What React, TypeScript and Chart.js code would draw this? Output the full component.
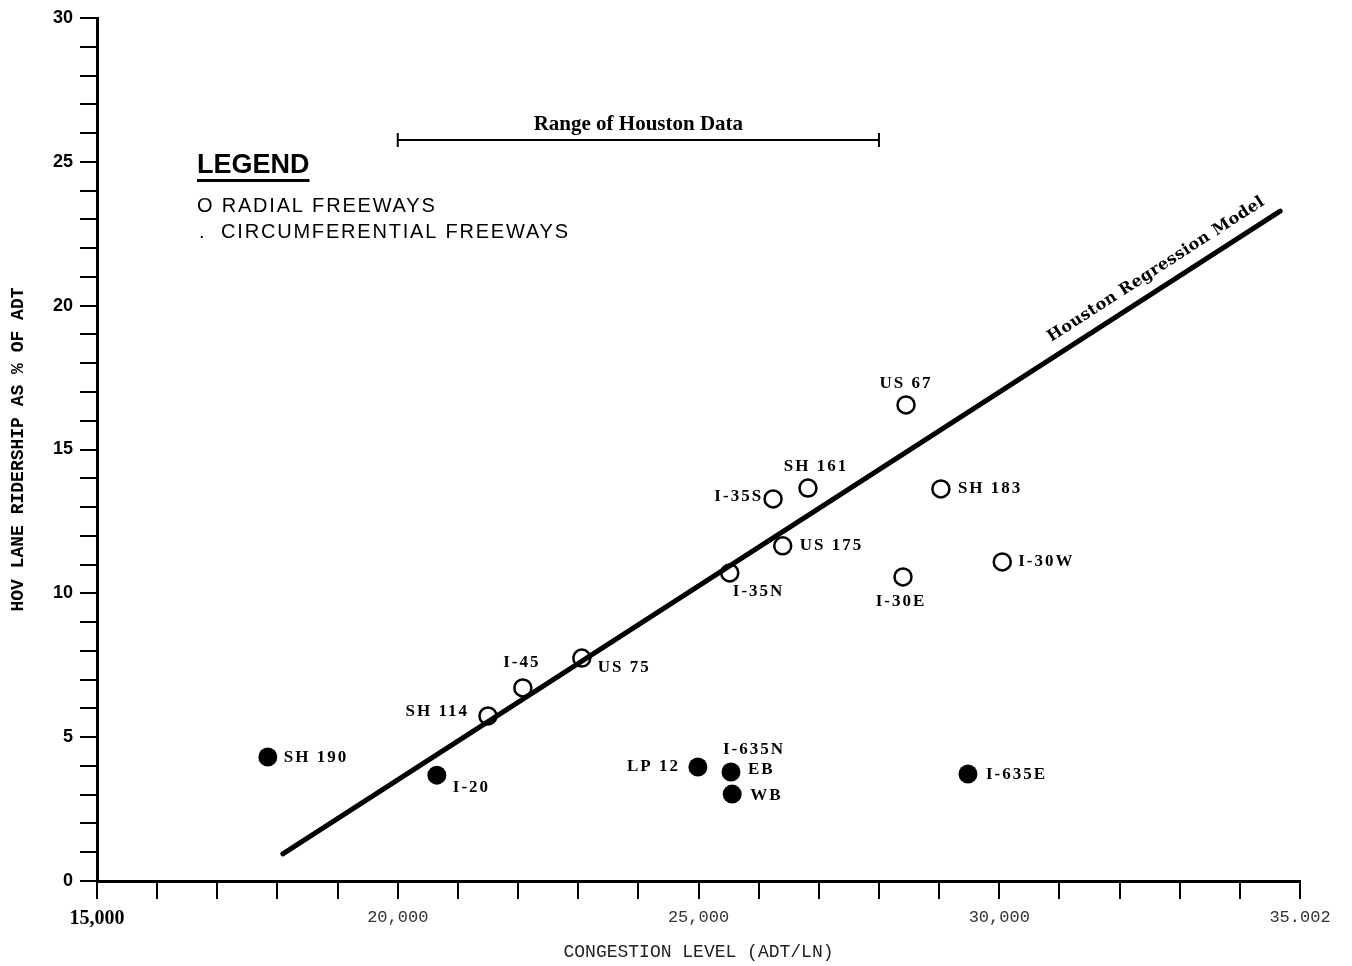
import { useEffect, useRef } from 'react';
import { Chart, registerables } from 'chart.js';

Chart.register(...registerables);

// Radial freeways (open circles)
const radialNames = ['SH 114', 'I-45', 'US 75', 'I-35N', 'US 175', 'I-35S', 'SH 161', 'US 67', 'SH 183', 'I-30E', 'I-30W'];
const radialX = [21500, 22080, 23060, 25520, 26400, 26240, 26820, 28450, 29030, 28400, 30050];
const radialY = [5.74, 6.71, 7.75, 10.71, 11.65, 13.28, 13.66, 16.55, 13.63, 10.57, 11.09];

// Circumferential freeways (filled circles)
const circNames = ['SH 190', 'I-20', 'LP 12', 'EB', 'WB', 'I-635E'];
const circX = [17840, 20650, 24990, 25540, 25560, 29480];
const circY = [4.31, 3.68, 3.96, 3.79, 3.02, 3.72];

// Houston regression model line
const regressionX = [18090, 34670];
const regressionY = [0.94, 23.29];
const regressionLabelX = 32770;

// Range of Houston data bar
const houstonRangeX = [20000, 28000];
const houstonRangeY = [25.76, 25.76];

// Tick labels
const xTickValues = [15000, 20000, 25000, 30000, 35000];
const xTickLabels = ['15,000', '20,000', '25,000', '30,000', '35.002'];
const yTickValues = [0, 5, 10, 15, 20, 25, 30];
const yTickLabels = ['0', '5', '10', '15', '20', '25', '30'];

// label placement (pixel offsets from the point, text alignment)
const radialLabelPlace: [number, number, CanvasTextAlign][] = [
  [-19, -4, 'right'], [-1, -25, 'center'], [16, 10, 'left'], [3, 19, 'left'],
  [17, 0, 'left'], [-10, -2, 'right'], [8, -21, 'center'], [0, -21, 'center'],
  [17, 0, 'left'], [-2, 25, 'center'], [16, 0, 'left'],
];
const circLabelPlace: [number, number, CanvasTextAlign][] = [
  [16, 1, 'left'], [16, 12, 'left'], [-18, 0, 'right'], [17, -2, 'left'], [18, 1, 'left'], [18, 1, 'left'],
];
const groupLabel = { text: 'I-635N', anchor: 3, dx: -8, dy: -22 };

const annotPlugin = {
  id: 'annot',
  afterDatasetsDraw(chart: any) {
    const { ctx, scales, chartArea } = chart;
    const x = scales.x;
    const y = scales.y;
    ctx.save();
    ctx.fillStyle = '#000';
    ctx.textBaseline = 'middle';
    ctx.font = 'bold 17px "Liberation Serif", serif';
    (ctx as any).letterSpacing = '2px';
    radialNames.forEach((n, i) => {
      const [dx, dy, al] = radialLabelPlace[i];
      ctx.textAlign = al;
      ctx.fillText(n, x.getPixelForValue(radialX[i]) + dx, y.getPixelForValue(radialY[i]) + dy);
    });
    circNames.forEach((n, i) => {
      const [dx, dy, al] = circLabelPlace[i];
      ctx.textAlign = al;
      ctx.fillText(n, x.getPixelForValue(circX[i]) + dx, y.getPixelForValue(circY[i]) + dy);
    });
    ctx.textAlign = 'left';
    ctx.fillText(
      groupLabel.text,
      x.getPixelForValue(circX[groupLabel.anchor]) + groupLabel.dx,
      y.getPixelForValue(circY[groupLabel.anchor]) + groupLabel.dy
    );

    // Range of Houston Data
    (ctx as any).letterSpacing = '0px';
    ctx.font = 'bold 21px "Liberation Serif", serif';
    ctx.textAlign = 'center';
    ctx.textBaseline = 'alphabetic';
    const rx = (x.getPixelForValue(houstonRangeX[0]) + x.getPixelForValue(houstonRangeX[1])) / 2;
    ctx.fillText('Range of Houston Data', rx, y.getPixelForValue(houstonRangeY[0]) - 10);

    // Legend block
    const lx = chartArea.left + 100;
    ctx.textAlign = 'left';
    ctx.font = 'bold 27px "Liberation Sans", Arial, sans-serif';
    ctx.fillText('LEGEND', lx, 173);
    const lw = ctx.measureText('LEGEND').width;
    ctx.fillRect(lx, 179, lw, 3);
    ctx.font = '20px "Liberation Sans", Arial, sans-serif';
    (ctx as any).letterSpacing = '1.8px';
    ctx.fillText('O RADIAL FREEWAYS', lx, 212);
    ctx.fillText('.  CIRCUMFERENTIAL FREEWAYS', lx + 2, 238);

    // Regression label
    (ctx as any).letterSpacing = '0.5px';
    const x0 = x.getPixelForValue(regressionX[0]);
    const y0 = y.getPixelForValue(regressionY[0]);
    const x1 = x.getPixelForValue(regressionX[1]);
    const y1 = y.getPixelForValue(regressionY[1]);
    const ang = Math.atan2(y1 - y0, x1 - x0);
    const t = (regressionLabelX - regressionX[0]) / (regressionX[1] - regressionX[0]);
    const px = x0 + (x1 - x0) * t;
    const py = y0 + (y1 - y0) * t;
    const off = 18;
    const nx = Math.sin(ang) * off;
    const ny = -Math.cos(ang) * off;
    ctx.translate(px + nx, py + ny);
    ctx.rotate(ang);
    ctx.font = 'bold 16px "DejaVu Serif", serif';
    ctx.textAlign = 'center';
    ctx.textBaseline = 'middle';
    ctx.fillText('Houston Regression Model', 0, 0);
    ctx.restore();
  },
};

export default function App() {
  const ref = useRef<HTMLCanvasElement>(null);
  useEffect(() => {
    const canvas = ref.current!;
    const chart = new Chart(canvas, {
      type: 'scatter',
      data: {
        datasets: [
          {
            label: 'Radial Freeways',
            data: radialX.map((v, i) => ({ x: v, y: radialY[i] })),
            pointRadius: 8.5,
            pointBorderWidth: 2.5,
            pointBorderColor: '#000',
            pointBackgroundColor: 'rgba(255,255,255,0)',
            showLine: false,
          },
          {
            label: 'Circumferential Freeways',
            data: circX.map((v, i) => ({ x: v, y: circY[i] })),
            pointRadius: 9.5,
            pointBorderWidth: 0,
            pointBackgroundColor: '#000',
            pointBorderColor: '#000',
            showLine: false,
          },
          {
            label: 'Houston Regression Model',
            data: regressionX.map((v, i) => ({ x: v, y: regressionY[i] })),
            showLine: true,
            borderColor: '#000',
            borderWidth: 5,
            borderCapStyle: 'round',
            pointRadius: 0,
          },
          {
            label: 'Range of Houston Data',
            data: houstonRangeX.map((v, i) => ({ x: v, y: houstonRangeY[i] })),
            showLine: true,
            borderColor: '#000',
            borderWidth: 2,
            pointStyle: 'line',
            rotation: 90,
            pointRadius: 7,
            pointBorderWidth: 2,
            pointBorderColor: '#000',
          },
        ],
      },
      options: {
        animation: false,
        responsive: false,
        layout: { padding: { top: 18, right: 52, bottom: 0, left: 0 } },
        plugins: { legend: { display: false }, tooltip: { enabled: false } },
        scales: {
          x: {
            type: 'linear',
            min: 15000,
            max: 35000,
            afterFit: (s: any) => { s.height = 85; },
            ticks: {
              stepSize: 1000,
              autoSkip: false,
              maxRotation: 0,
              minRotation: 0,
              padding: 8,
              color: (c: any) => (c.tick && c.tick.value === 15000 ? '#000' : '#333'),
              font: (c: any) =>
                c.tick && c.tick.value === 15000
                  ? { family: '"Liberation Serif", serif', size: 20, weight: 'bold' }
                  : { family: '"Liberation Mono", monospace', size: 17, weight: 'normal' },
              callback: (v: any) => {
                const i = xTickValues.indexOf(Number(v));
                return i >= 0 ? xTickLabels[i] : '';
              },
            },
            grid: { drawOnChartArea: false, drawTicks: true, tickLength: 18, color: '#000', lineWidth: 2 },
            border: { display: true, color: '#000', width: 3 },
            title: {
              display: true,
              text: 'CONGESTION LEVEL (ADT/LN)',
              color: '#222',
              font: { family: '"Liberation Mono", monospace', size: 18, weight: 'normal' },
              padding: { top: 0, bottom: 3 },
            },
          },
          y: {
            type: 'linear',
            min: 0,
            max: 30,
            afterFit: (s: any) => { s.width = 97; },
            ticks: {
              stepSize: 1,
              autoSkip: false,
              padding: 7,
              color: '#000',
              font: { family: '"Liberation Sans", Arial, sans-serif', size: 18, weight: 'bold' },
              callback: (v: any) => {
                const i = yTickValues.indexOf(Number(v));
                return i >= 0 ? yTickLabels[i] : '';
              },
            },
            grid: { drawOnChartArea: false, drawTicks: true, tickLength: 17, color: '#000', lineWidth: 2 },
            border: { display: true, color: '#000', width: 3 },
            title: {
              display: true,
              text: 'HOV LANE RIDERSHIP AS % OF ADT',
              color: '#000',
              font: { family: '"Liberation Mono", monospace', size: 18, weight: 'bold' },
              padding: { top: 8, bottom: 0 },
            },
          },
        },
      },
      plugins: [annotPlugin],
    } as any);
    return () => chart.destroy();
  }, []);
  return (
    <div style={{ position: 'absolute', left: 0, top: 0, width: 1352, height: 966, background: '#fff' }}>
      <canvas ref={ref} width={1352} height={966} style={{ display: 'block', width: 1352, height: 966 }} />
    </div>
  );
}
